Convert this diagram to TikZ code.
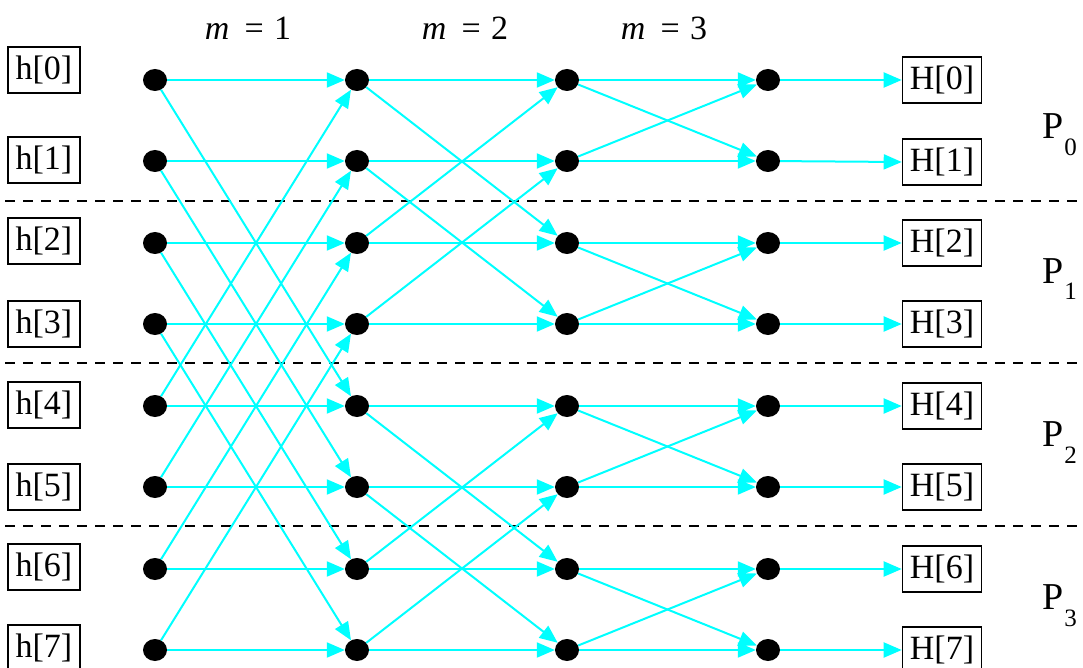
\documentclass[tikz,border=0pt]{standalone}
\usepackage{fontspec}
\setmainfont{Liberation Serif}
\usetikzlibrary{arrows.meta,shapes.geometric}
\definecolor{flowcyan}{RGB}{0,255,255}
\begin{document}
\begin{tikzpicture}[x=1pt,y=-1pt,
  dot/.style={ellipse,fill=black,minimum width=24pt,minimum height=22pt,inner sep=0pt},
  flow/.style={draw=flowcyan,line width=2pt,-{Triangle[length=18pt,width=15pt]}},
  valbox/.style={draw,line width=1.4pt,minimum height=46pt,inner xsep=7.5pt,inner ysep=0pt,font=\fontsize{34}{40}\selectfont},
  sepline/.style={draw=black,line width=2.4pt,dash pattern=on 10pt off 8pt},
  stagelabel/.style={anchor=base,font=\fontsize{34}{40}\selectfont},
  plabel/.style={anchor=base west,inner sep=0pt,font=\fontsize{38}{44}\selectfont}
]
\useasboundingbox (0,0) rectangle (1083,668);

% dots
\foreach \c/\x in {0/155,1/357,2/567,3/768}{
  \foreach \r/\y in {0/80,1/161,2/243,3/324,4/406,5/487,6/569,7/650}{
    \node[dot] (d\c\r) at (\x,\y) {};
  }
}

% input boxes
\foreach \r/\y in {0/70,1/160,2/241,3/324,4/405,5/487,6/567,7/648}{
  \node[valbox] (h\r) at (44,\y) {h[\r]};
}
% output boxes
\foreach \r/\y in {0/80,1/162,2/243,3/324,4/406,5/487,6/569,7/650}{
  \node[valbox] (H\r) at (942,\y) {H[\r]};
}

% separators
\draw[sepline] (5,201) -- (1083,201);
\draw[sepline] (5,363) -- (1083,363);
\draw[sepline] (5,526) -- (1083,526);

% stage labels
\node[stagelabel] (m1) at (248,40) {\textit{m}\hspace{0.45em}=\hspace{0.3em}1};
\node[stagelabel] (m2) at (465,40) {\textit{m}\hspace{0.45em}=\hspace{0.3em}2};
\node[stagelabel] (m3) at (664,40) {\textit{m}\hspace{0.45em}=\hspace{0.3em}3};

% processor labels
\foreach \p/\y in {0/139,1/283,2/446,3/609}{
  \node[plabel] (P\p) at (1042,\y) {P\hspace{1pt}\raisebox{-17pt}{\fontsize{25}{30}\selectfont\p}};
}

% horizontal flows
\foreach \r in {0,...,7}{
  \draw[flow] (d0\r) -- (d1\r);
  \draw[flow] (d1\r) -- (d2\r);
  \draw[flow] (d2\r) -- (d3\r);
  \draw[flow] (d3\r) -- (H\r.west);
}
% stage 1 butterflies (span 4)
\foreach \a/\b in {0/4,1/5,2/6,3/7,4/0,5/1,6/2,7/3}{
  \draw[flow] (d0\a) -- (d1\b);
}
% stage 2 butterflies (span 2)
\foreach \a/\b in {0/2,1/3,2/0,3/1,4/6,5/7,6/4,7/5}{
  \draw[flow] (d1\a) -- (d2\b);
}
% stage 3 butterflies (span 1)
\foreach \a/\b in {0/1,1/0,2/3,3/2,4/5,5/4,6/7,7/6}{
  \draw[flow] (d2\a) -- (d3\b);
}
\end{tikzpicture}
\end{document}
